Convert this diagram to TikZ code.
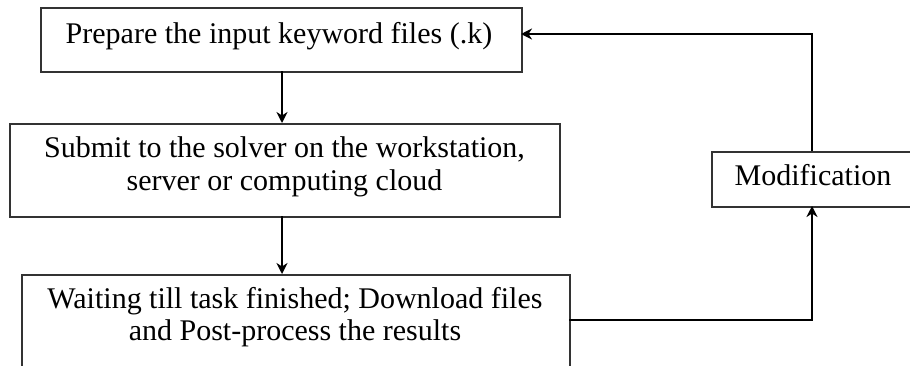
\documentclass[tikz,border=0pt]{standalone}
\usepackage{fontspec}
\setmainfont{Liberation Serif}
\usetikzlibrary{arrows.meta}
\begin{document}
\begin{tikzpicture}[x=1pt,y=-1pt,
  stepbox/.style={draw=black!80,line width=1.5pt,inner sep=0pt,anchor=north west},
  txt/.style={font=\fontsize{30}{33}\selectfont,inner sep=0pt,anchor=base},
  conn/.style={line width=2.9pt,-{Stealth[length=11pt,width=11pt,inset=3.5pt]}}]
\useasboundingbox (0,0) rectangle (910,365);
\node[stepbox,minimum width=481pt,minimum height=64pt] (prep) at (40,7) {};
\node[txt] (preptxt) at (279,43) {Prepare the input keyword files (.k)};
\node[stepbox,minimum width=550pt,minimum height=93pt] (sub) at (9,123) {};
\node[txt] (subtxt1) at (284.5,157) {Submit to the solver on the workstation,};
\node[txt] (subtxt2) at (284.5,190) {server or computing cloud};
\node[stepbox,minimum width=548pt,minimum height=130pt] (wait) at (21,274) {};
\node[txt] (waittxt1) at (295,308) {Waiting till task finished; Download files};
\node[txt] (waittxt2) at (295,340) {and Post-process the results};
\node[stepbox,minimum width=210pt,minimum height=55pt] (mod) at (711,151) {};
\node[txt] (modtxt) at (813,185) {Modification};
\coordinate (wr) at (569,320);
\coordinate (mb) at (812,206);
\coordinate (mt) at (812,151);
\coordinate (pr) at (521,34);
\draw[conn] (282,71) -- (282,123);
\draw[conn] (282,216) -- (282,274);
\draw[conn] (wr) -- (812,320) -- (mb);
\draw[conn] (mt) -- (812,34) -- (pr);
\end{tikzpicture}
\end{document}
